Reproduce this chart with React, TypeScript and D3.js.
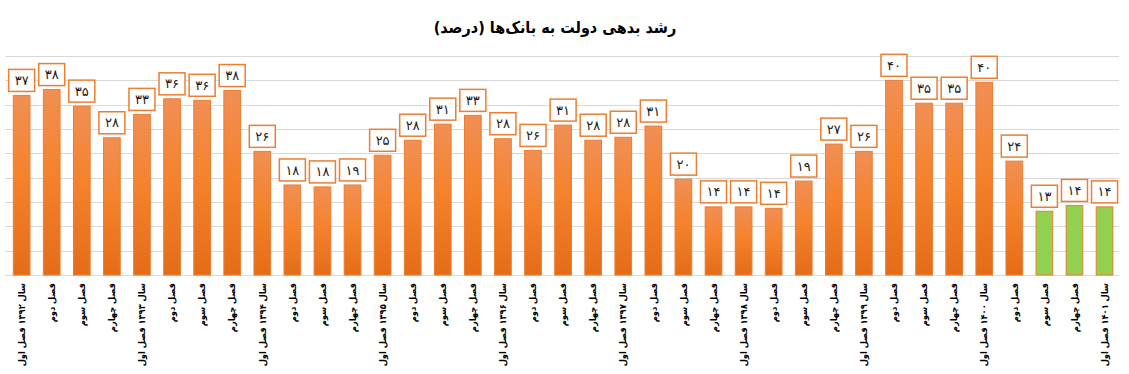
import React, { useEffect, useRef } from 'react';
import * as d3 from 'd3';

// دسته‌ها (فصل‌ها)
const categories = [
  'سال ۱۳۹۲ فصل اول', 'فصل دوم', 'فصل سوم', 'فصل چهارم',
  'سال ۱۳۹۳ فصل اول', 'فصل دوم', 'فصل سوم', 'فصل چهارم',
  'سال ۱۳۹۴ فصل اول', 'فصل دوم', 'فصل سوم', 'فصل چهارم',
  'سال ۱۳۹۵ فصل اول', 'فصل دوم', 'فصل سوم', 'فصل چهارم',
  'سال ۱۳۹۶ فصل اول', 'فصل دوم', 'فصل سوم', 'فصل چهارم',
  'سال ۱۳۹۷ فصل اول', 'فصل دوم', 'فصل سوم', 'فصل چهارم',
  'سال ۱۳۹۸ فصل اول', 'فصل دوم', 'فصل سوم', 'فصل چهارم',
  'سال ۱۳۹۹ فصل اول', 'فصل دوم', 'فصل سوم', 'فصل چهارم',
  'سال ۱۴۰۰ فصل اول', 'فصل دوم', 'فصل سوم', 'فصل چهارم',
  'سال ۱۴۰۱ فصل اول',
];

// ارتفاع ستون‌ها (درصد)
const values = [
  36.9, 38.1, 34.7, 28.2, 33.0, 36.2, 35.9, 37.9,
  25.4, 18.5, 18.1, 18.5, 24.6, 27.7, 31.0, 32.8,
  28.0, 25.6, 30.8, 27.7, 28.3, 30.6, 19.7, 14.0,
  14.0, 13.7, 19.3, 26.9, 25.4, 40.0, 35.3, 35.3,
  39.6, 23.4, 13.1, 14.3, 14.0,
];

// برچسب‌های نوشته شده روی ستون‌ها
const valueLabels = [
  '۳۷', '۳۸', '۳۵', '۲۸', '۳۳', '۳۶', '۳۶', '۳۸',
  '۲۶', '۱۸', '۱۸', '۱۹', '۲۵', '۲۸', '۳۱', '۳۳',
  '۲۸', '۲۶', '۳۱', '۲۸', '۲۸', '۳۱', '۲۰', '۱۴',
  '۱۴', '۱۴', '۱۹', '۲۷', '۲۶', '۴۰', '۳۵', '۳۵',
  '۴۰', '۲۴', '۱۳', '۱۴', '۱۴',
];

// ستون‌های سبز (آخرین فصل‌ها)
const greenBars = [34, 35, 36];

const title = 'رشد بدهی دولت به بانک‌ها (درصد)';

const App: React.FC = () => {
  const svgRef = useRef<SVGSVGElement>(null);

  useEffect(() => {
    const width = 1129;
    const height = 374;
    const font = '"DejaVu Sans", sans-serif';
    const condensed = '"DejaVu Sans Condensed", "DejaVu Sans", sans-serif';

    const svg = d3.select(svgRef.current)
      .attr('width', width)
      .attr('height', height);
    svg.selectAll('*').remove();

    const x = d3.scaleBand<number>()
      .domain(d3.range(categories.length))
      .range([6.6, 1119.6])
      .paddingInner(0.445)
      .paddingOuter(0.2225);

    const y = d3.scaleLinear()
      .domain([0, 45])
      .range([275, 56]);

    const defs = svg.append('defs');
    const grad = defs.append('linearGradient')
      .attr('id', 'orangeGrad')
      .attr('x1', 0).attr('x2', 0)
      .attr('y1', 0).attr('y2', 1);
    grad.append('stop').attr('offset', '0%').attr('stop-color', '#F08F55');
    grad.append('stop').attr('offset', '45%').attr('stop-color', '#F5822C');
    grad.append('stop').attr('offset', '100%').attr('stop-color', '#E46C18');

    // خطوط راهنما
    svg.append('g')
      .selectAll('line')
      .data(y.ticks(9))
      .enter().append('line')
      .attr('x1', 5)
      .attr('x2', 1119)
      .attr('y1', (d) => Math.round(y(d)) + 0.5)
      .attr('y2', (d) => Math.round(y(d)) + 0.5)
      .attr('stroke', '#D9D9D9')
      .attr('stroke-width', 1);

    // عنوان
    svg.append('text')
      .attr('x', 555)
      .attr('y', 33)
      .attr('text-anchor', 'middle')
      .attr('font-family', condensed)
      .attr('font-weight', 'bold')
      .attr('font-size', 16)
      .attr('fill', '#000')
      .text(title);

    // ستون‌ها
    svg.append('g')
      .selectAll('rect')
      .data(values)
      .enter().append('rect')
      .attr('x', (_d, i) => x(i)!)
      .attr('y', (d) => y(d))
      .attr('width', x.bandwidth())
      .attr('height', (d) => y(0) - y(d))
      .attr('fill', (_d, i) => (greenBars.includes(i) ? '#92D050' : 'url(#orangeGrad)'))
      .attr('stroke', '#ED7D31')
      .attr('stroke-width', 1);

    // برچسب مقادیر
    const boxW = 26;
    const boxH = 22;
    const lab = svg.append('g')
      .selectAll('g')
      .data(values)
      .enter().append('g')
      .attr('transform', (d, i) =>
        `translate(${x(i)! + x.bandwidth() / 2},${y(d) - 4 - boxH / 2})`);
    lab.append('rect')
      .attr('x', -boxW / 2)
      .attr('y', -boxH / 2)
      .attr('width', boxW)
      .attr('height', boxH)
      .attr('fill', '#fff')
      .attr('stroke', '#ED7D31')
      .attr('stroke-width', 1.5);
    lab.append('text')
      .attr('text-anchor', 'middle')
      .attr('dy', '0.35em')
      .attr('font-family', font)
      .attr('font-size', 13)
      .attr('fill', '#222')
      .text((_d, i) => valueLabels[i]);

    // محور افقی
    svg.append('g')
      .selectAll('text')
      .data(categories)
      .enter().append('text')
      .attr('transform', (_d, i) =>
        `translate(${x(i)! + x.bandwidth() / 2},283) rotate(-90)`)
      .attr('text-anchor', 'end')
      .attr('dy', '0.35em')
      .attr('font-family', condensed)
      .attr('font-weight', 'bold')
      .attr('font-size', 9.2)
      .attr('fill', '#000')
      .text((d) => d);
  }, []);

  return (
    <svg ref={svgRef} style={{ position: 'absolute', left: 0, top: 0 }}></svg>
  );
};

export default App;
